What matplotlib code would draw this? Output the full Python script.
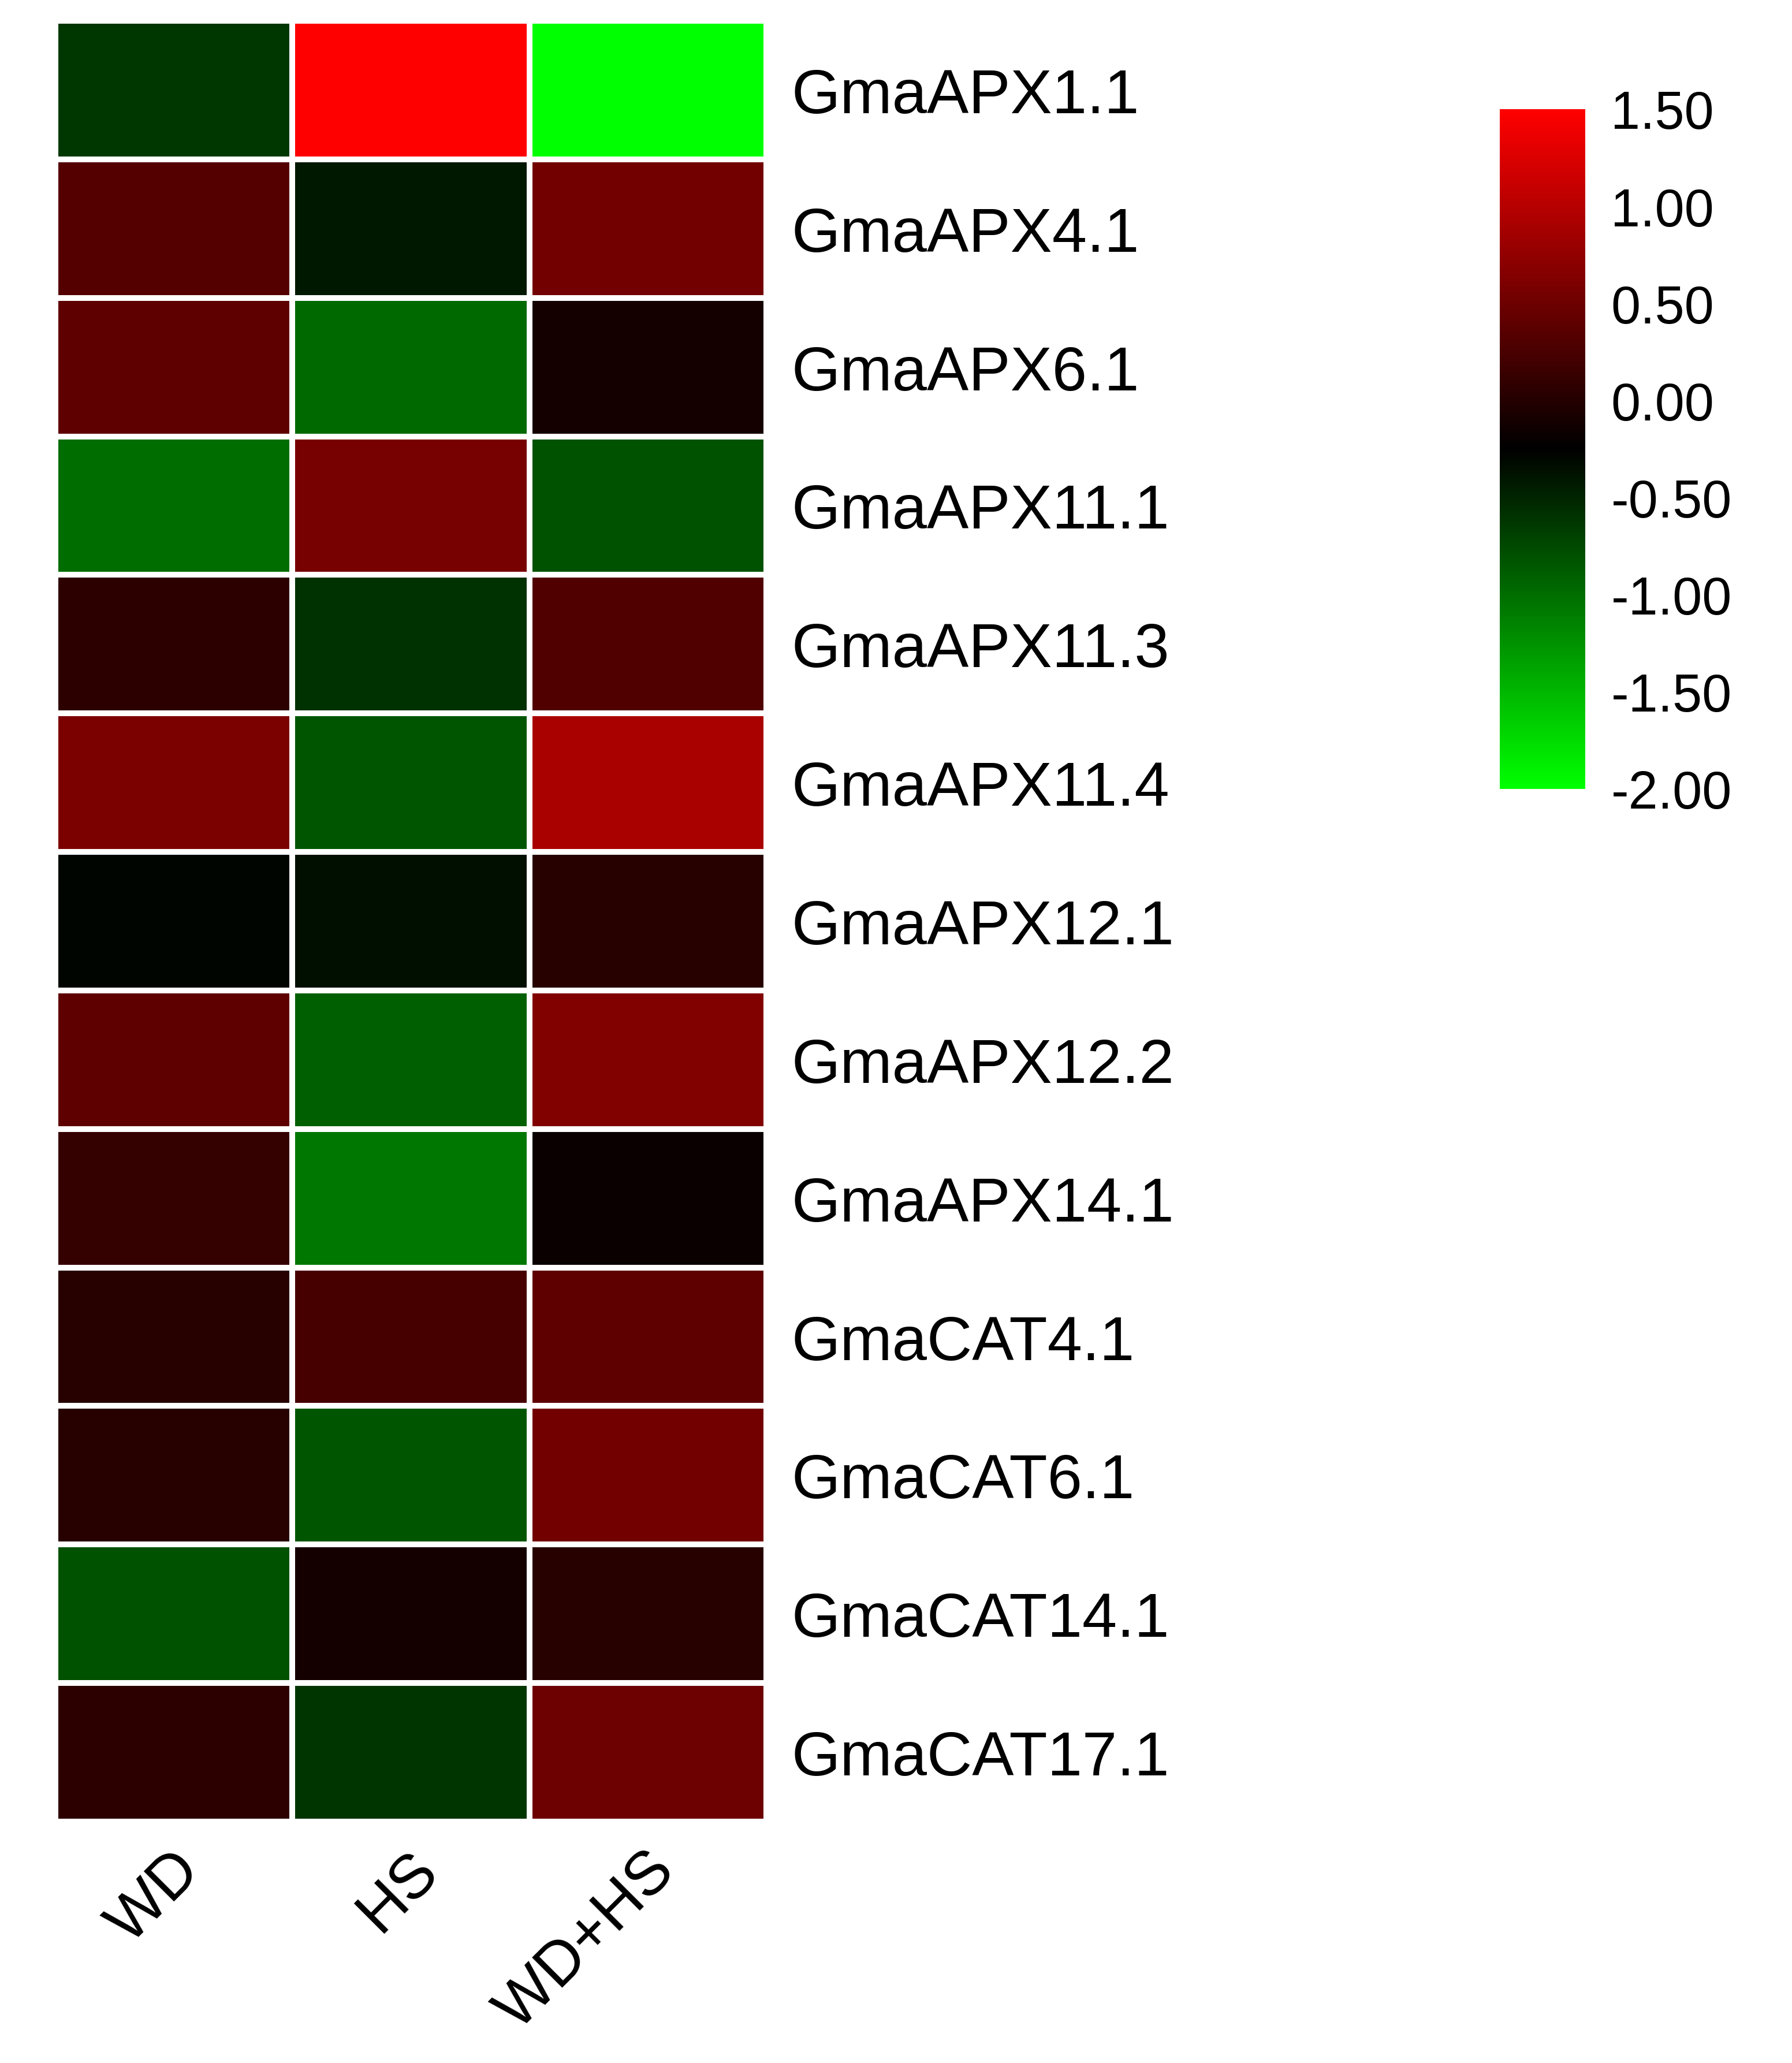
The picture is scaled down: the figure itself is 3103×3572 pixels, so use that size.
import numpy as np
import matplotlib
matplotlib.use("Agg")
import matplotlib.pyplot as plt
from matplotlib.colors import LinearSegmentedColormap, Normalize
from matplotlib.transforms import offset_copy

plt.rcParams['font.family'] = ['Liberation Sans', 'DejaVu Sans']

genes = ["GmaAPX1.1", "GmaAPX4.1", "GmaAPX6.1", "GmaAPX11.1", "GmaAPX11.3",
         "GmaAPX11.4", "GmaAPX12.1", "GmaAPX12.2", "GmaAPX14.1", "GmaCAT4.1",
         "GmaCAT6.1", "GmaCAT14.1", "GmaCAT17.1"]
conditions = ["WD", "HS", "WD+HS"]

wd    = [-0.63, 0.33, 0.40, -1.00, 0.06, 0.59, -0.29, 0.40, 0.11, 0.01, 0.01, -0.80, 0.06]
hs    = [1.50, -0.41, -0.97, 0.57, -0.58, -0.83, -0.35, -0.90, -1.07, 0.23, -0.83, -0.11, -0.61]
wd_hs = [-2.00, 0.54, -0.10, -0.80, 0.30, 0.90, 0.01, 0.63, -0.17, 0.40, 0.54, 0.01, 0.49]

cbar_ticks = [1.50, 1.00, 0.50, 0.00, -0.50, -1.00, -1.50, -2.00]
vmin, vmax = -2.0, 1.5

data = np.array([wd, hs, wd_hs]).T

W, H = 3103, 3573
dpi = 100
fig = plt.figure(figsize=(W / dpi, H / dpi), dpi=dpi)

cmap = LinearSegmentedColormap.from_list("gbr", [(0, 1, 0), (0, 0, 0), (1, 0, 0)])
norm = Normalize(vmin=vmin, vmax=vmax)

# heatmap axes (slightly extended so that the white cell borders fall outside the visible cells)
left, right, top, bottom = 96, 1327, 37, 3155
ax = fig.add_axes([left / W, 1 - bottom / H, (right - left) / W, (bottom - top) / H])
mesh = ax.pcolormesh(data, cmap=cmap, norm=norm, edgecolors='white', linewidth=5.8)
ax.set_xlim(0, len(conditions))
ax.set_ylim(len(genes), 0)
for s in ax.spines.values():
    s.set_visible(False)

ax.yaxis.tick_right()
ax.set_yticks(np.arange(len(genes)) + 0.5)
ax.set_yticklabels(genes, fontsize=78)
ax.tick_params(axis='y', length=0, pad=31)
ax.set_xticks([])

trans = offset_copy(ax.transData, fig=fig, x=30, y=-68, units='dots')
for j, c in enumerate(conditions):
    ax.text(j + 0.5, len(genes), c, transform=trans, rotation=45,
            rotation_mode='anchor', ha='right', va='center', fontsize=77)

# colorbar
cl, cr, ct, cb = 2597, 2745, 190, 1367
cax = fig.add_axes([cl / W, 1 - cb / H, (cr - cl) / W, (cb - ct) / H])
cbar = fig.colorbar(mesh, cax=cax)
cbar.outline.set_visible(False)
cbar.set_ticks(cbar_ticks)
cbar.set_ticklabels([f"{t:.2f}".replace("\u2212", "-") for t in cbar_ticks])
cax.tick_params(length=0, pad=32, labelsize=66)

fig.savefig("out.png", dpi=dpi, facecolor='white')
